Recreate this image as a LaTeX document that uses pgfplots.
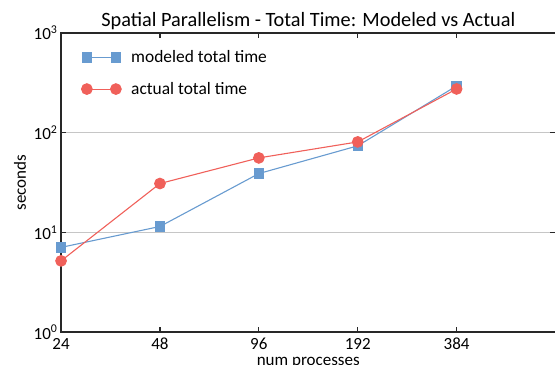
\documentclass[border=0pt]{standalone}
\usepackage{pgfplots}
\pgfplotsset{compat=1.18}
\usepackage{fontspec}
\setmainfont{Carlito}
\definecolor{mblue}{RGB}{104,155,208}
\definecolor{mred}{RGB}{240,96,90}
\definecolor{spine}{RGB}{40,40,40}
\begin{document}
\begin{tikzpicture}
\begin{axis}[
  scale only axis, width=494bp, height=299bp,
  xmin=0, xmax=5, ymode=log, log basis y=10, ymin=1, ymax=1000,
  xtick={0,1,2,3,4}, xticklabels={24,48,96,192,384},
  ytick={1,10,100,1000},
  yticklabels={10\textsuperscript{0},10\textsuperscript{1},10\textsuperscript{2},10\textsuperscript{3}},
  minor ytick={}, minor tick num=0,
  major tick length=5bp, tick align=inside,
  tick style={spine, line width=1.2bp},
  axis line style={spine, line width=1.6bp},
  ymajorgrids, grid style={gray!45, line width=0.8bp},
  ticklabel style={font=\fontsize{17bp}{19bp}\selectfont},
  xticklabel style={yshift=-2.5bp},
  title={Spatial Parallelism - Total Time: Modeled vs Actual},
  title style={font=\fontsize{20.3bp}{23bp}\selectfont, yshift=-6bp},
  xlabel={num processes}, ylabel={seconds},
  label style={font=\fontsize{17bp}{19bp}\selectfont},
  xlabel style={yshift=0bp},
  ylabel style={yshift=1bp},
  legend style={at={(axis description cs:0.035,0.955)}, anchor=north west, draw=none, fill=none,
    font=\fontsize{17.4bp}{19bp}\selectfont, row sep=14bp,
    /tikz/every odd column/.append style={column sep=8bp}},
  legend cell align=left,
  legend image code/.code={\draw[#1] plot coordinates {(0bp,0bp) (29bp,0bp)};},
]
\addplot[mblue, line width=1.1bp, mark=square*, mark size=4.6bp] coordinates {
 (0,7.1) (1,11.5) (2,39) (3,74) (4,295)};
\addlegendentry{modeled total time}
\addplot[mred, line width=1.1bp, mark=*, mark size=5.3bp] coordinates {
 (0,5.2) (1,31) (2,56) (3,81) (4,275)};
\addlegendentry{actual total time}
\end{axis}
\pgfresetboundingbox
\useasboundingbox (current axis.south west) ++(-61bp,-32bp) rectangle ([xshift=-0.5bp,yshift=33bp]current axis.north east);
\end{tikzpicture}
\end{document}
